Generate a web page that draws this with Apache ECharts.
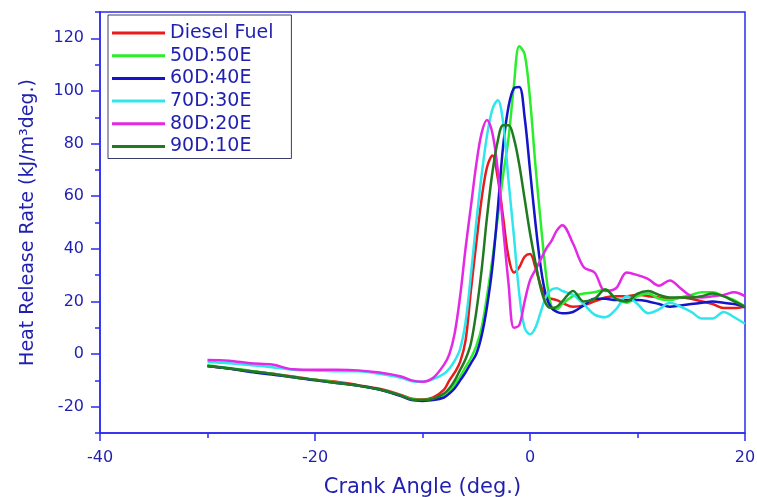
<!DOCTYPE html>
<html>
<head>
<meta charset="utf-8">
<script src="https://cdn.jsdelivr.net/npm/echarts@6/dist/echarts.min.js"></script>
<style>html,body{margin:0;padding:0;background:#fff}#c{width:757px;height:497px}</style>
</head>
<body>
<div id="c"></div>
<script>
var angles = [-30,-28,-26,-24,-22,-20,-18,-16,-14,-12,-11,-10,-9,-8,
  -7.5,-7,-6.5,-6,-5.5,-5,-4.5,-4,-3.5,-3,-2.5,-2,-1.5,-1,-0.5,0,0.5,1,1.5,2,2.5,3,
  4,5,6,7,8,9,10,11,12,13,14,15,16,17,18,19,20];

var dieselFuel = [-4.5,-5.5,-6.5,-7.5,-8.5,-9.8,-10.5,-11.8,-13.2,-15.5,-17,-17.3,-16.5,-13.5,
  -10,-7,-3,5,24,42,59,71,75.5,67,52,37,31,33,37,38,33,26,21.5,21,20.5,19.5,
  18,18.5,20,21.5,22,22,22.5,22,21.5,21,21.5,21,20,19,17.5,17.5,18];

var d50e50 = [-4.2,-5.3,-6.3,-7.5,-8.7,-9.8,-10.8,-12,-13.5,-15.8,-17.2,-17.5,-17,-15.5,
  -14,-11.5,-8.5,-5,-1.5,3,10,22,36,52,68,82,102,117,114,97,72,50,30,18,17,19,
  22,23,23.5,24.5,21,19.5,22,23,21,20.5,21.5,22.5,23.5,23.5,22,20.5,18];

var d60e40 = [-4.5,-5.5,-6.8,-7.8,-8.8,-10,-11,-12,-13.5,-16,-17.5,-17.8,-17.5,-16.5,
  -15,-13,-10,-7,-3.5,0,7,18,33,55,79,94,101,101.5,90,70,50,33,22,17.5,16,15.5,
  16,18.5,21,21,20.5,20.5,20.5,20,19,18,18.5,19,19.5,20,19.5,19,18];

var d70e30 = [-3,-3.5,-4.2,-5,-6,-6.2,-6.5,-6.5,-7.5,-9,-10.3,-10.5,-9.5,-7.5,
  -5.5,-2.5,2,12,30,50,68,83,93,96.5,88,66,45,23,10,7.5,10,16,22,24.5,25,24,
  22.5,19,15,14,17,22,19,15.5,17,19.5,18,16,13.5,13.5,16,14,11.5];

var d80e20 = [-2.3,-2.5,-3.5,-4,-5.8,-6,-6,-6.2,-7,-8.5,-10,-10.5,-9,-4,
  0,8,22,40,56,72,84,89,84,70,48,27,10,11,20,28,32,36,40,43,47,49,
  42,33,31,24,25,31,30,28.5,26,28,25,22,21.5,22,22.5,23.5,22];

var d90e10 = [-4.5,-5.5,-6.5,-7.5,-8.8,-9.8,-11,-12,-13.5,-15.8,-17.3,-17.5,-17,-15,
  -13,-10,-6,-2,4,16,32,52,69,81,87,87,82,72,59,46,35,25,19,17.5,18,20,
  24,20,21,24.5,21,20,23,24,22.5,21.5,21.5,21.5,22,23,22,20,18];

var seriesNames = ['Diesel Fuel','50D:50E','60D:40E','70D:30E','80D:20E','90D:10E'];
var seriesValues = [dieselFuel, d50e50, d60e40, d70e30, d80e20, d90e10];
var seriesColors = ['#e81c1c','#2aee2a','#1414c8','#2ee6ec','#e428e4','#217a21'];

var xLabelValues = [-40,-20,0,20];
var xMinorValues = [-30,-10,10];
var yLabelValues = [-20,0,20,40,60,80,100,120];
var yMinorValues = [-30,-10,10,30,50,70,90,110,130];

var axisBlue = '#2b2bf0';
var textBlue = '#1f1fb0';
var font = 'DejaVu Sans';

function pairs(vals){ return angles.map(function(a,i){ return [a, vals[i]]; }); }

var series = seriesNames.map(function(n,i){
  return {
    name: n, type: 'line', data: pairs(seriesValues[i]),
    showSymbol: false, smooth: 0.35,
    lineStyle: {width: 2.5, color: seriesColors[i]},
    itemStyle: {color: seriesColors[i]},
    xAxisIndex: 0, yAxisIndex: 0
  };
});

var tickStyle = {color: axisBlue, width: 1.5};

var chart = echarts.init(document.getElementById('c'), null, {renderer: 'canvas'});
chart.setOption({
  animation: false,
  backgroundColor: '#fff',
  grid: {left: 100, right: 12, top: 12, bottom: 64, outerBoundsMode: 'none', containLabel: false,
    show: true, borderColor: axisBlue, borderWidth: 1.5, backgroundColor: 'transparent'},
  legend: {
    left: 108, top: 15, orient: 'vertical',
    data: seriesNames,
    icon: 'rect', itemWidth: 53, itemHeight: 3, itemGap: 2.7,
    padding: [8, 18, 2, 4],
    borderColor: '#3a3a6a', borderWidth: 1, backgroundColor: '#fff',
    textStyle: {fontFamily: font, fontSize: 19, color: textBlue, lineHeight: 20}
  },
  xAxis: [{
    type: 'value', min: -40, max: 20, interval: 10, position: 'bottom',
    name: 'Crank Angle (deg.)', nameLocation: 'middle', nameGap: 44,
    nameTextStyle: {fontFamily: font, fontSize: 21, color: textBlue},
    axisLine: {show: true, onZero: false, lineStyle: {color: axisBlue, width: 1.5}},
    axisTick: {show: true, length: 8, customValues: xLabelValues, lineStyle: tickStyle},
    axisLabel: {fontFamily: font, fontSize: 16, color: textBlue, margin: 17, customValues: xLabelValues},
    splitLine: {show: false}
  }, {
    type: 'value', min: -40, max: 20, interval: 10, position: 'bottom', offset: 0,
    axisLine: {show: false, onZero: false},
    axisTick: {show: true, length: 5, customValues: xMinorValues, lineStyle: tickStyle},
    axisLabel: {show: false},
    splitLine: {show: false}
  }],
  yAxis: [{
    type: 'value', min: -30, max: 130, interval: 10, position: 'left',
    name: 'Heat Release Rate (kJ/m\u00B3deg.)', nameLocation: 'middle', nameGap: 62, nameRotate: 90,
    nameTextStyle: {fontFamily: font, fontSize: 19, color: textBlue},
    axisLine: {show: true, onZero: false, lineStyle: {color: axisBlue, width: 1.5}},
    axisTick: {show: true, length: 9, customValues: yLabelValues, lineStyle: tickStyle},
    axisLabel: {fontFamily: font, fontSize: 16, color: textBlue, margin: 16, customValues: yLabelValues},
    splitLine: {show: false}
  }, {
    type: 'value', min: -30, max: 130, interval: 10, position: 'left',
    axisLine: {show: false, onZero: false},
    axisTick: {show: true, length: 5, customValues: yMinorValues, lineStyle: tickStyle},
    axisLabel: {show: false},
    splitLine: {show: false}
  }],
  series: series
});
</script>
</body>
</html>
